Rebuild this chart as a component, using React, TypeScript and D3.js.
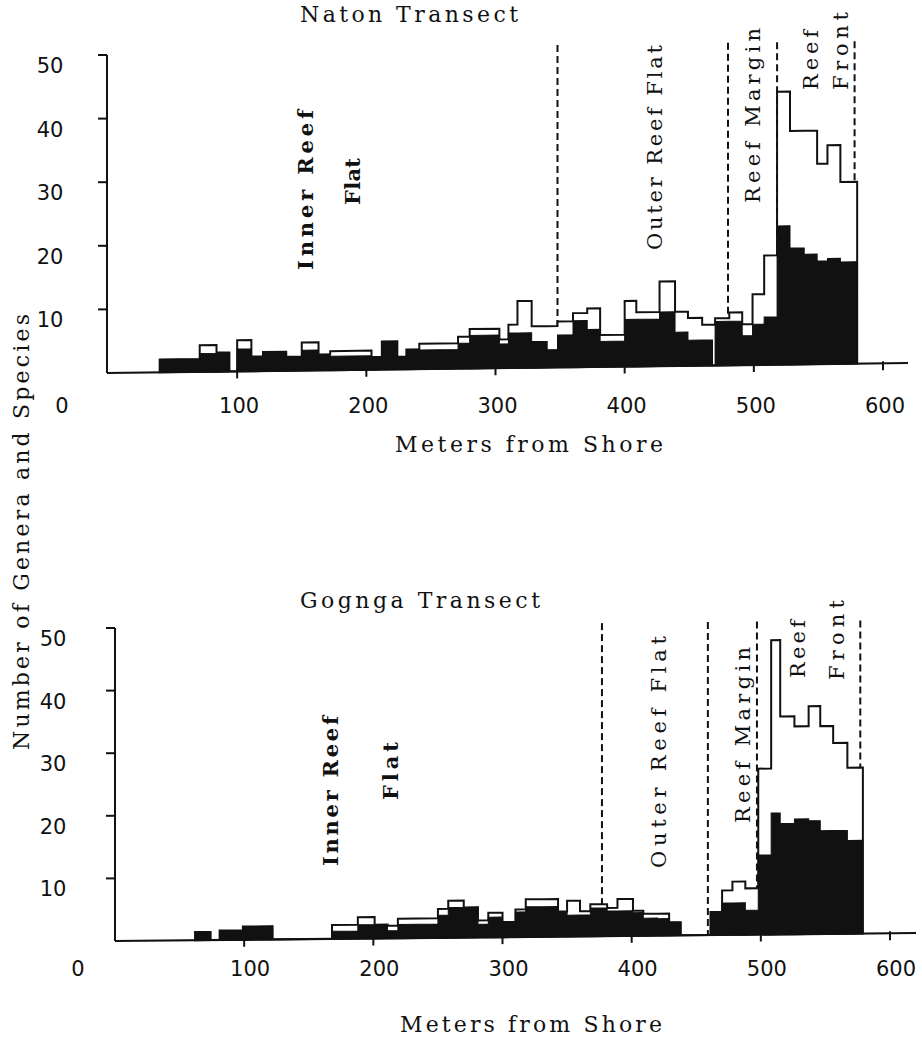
import React, { useEffect, useRef } from 'react';
import * as d3 from 'd3';

// Naton transect: bin edges (m from shore) and counts per bin
const natonEdges = [40, 71, 84, 94, 100, 111, 120, 138, 150, 163, 172, 204, 212, 224, 231, 241, 271, 280, 303, 310, 317, 328, 340, 348, 360, 371, 381, 400, 409, 427, 439, 449, 460, 468, 470, 481, 491, 499, 508, 518, 528, 539, 549, 557, 567, 580];
const natonSpecies = [2, 4.2, 3, 0, 4.9, 2.3, 3, 2.2, 4.4, 2.5, 3, 2, 4.4, 2, 3.1, 4, 5, 6.2, 4.5, 6.8, 10.5, 6.5, 6.5, 7.2, 8.5, 9.2, 5, 10.3, 8.5, 13.3, 8.5, 7.5, 6.4, 6.4, 7.4, 8.3, 6.4, 11.1, 17.2, 42.9, 36.7, 36.7, 31.5, 34.4, 28.6];
const natonGenera = [2, 2.9, 3, 0, 3.5, 2.3, 3, 2.2, 3.2, 2.5, 2.2, 2, 4.4, 2, 3.1, 3, 4, 5.2, 3.8, 5.5, 5.5, 4.1, 2.8, 5.1, 7.3, 5.9, 4, 7.4, 7.4, 8.5, 5.3, 4, 4, 0, 6.9, 6.9, 4.6, 6.4, 7.5, 21.8, 18.3, 17.3, 16.2, 16.6, 16];
const natonZones = [348, 480, 518, 578];

// Gognga transect
const gognaEdges = [62, 74, 81, 99, 122, 168, 188, 201, 211, 219, 250, 258, 270, 281, 289, 300, 310, 318, 331, 343, 350, 360, 368, 381, 389, 401, 409, 420, 429, 438, 461, 470, 478, 488, 498, 508, 515, 526, 537, 546, 556, 567, 579];
const gognaSpecies = [1.3, 0, 1.5, 2.1, 0, 2.2, 3.4, 2.2, 2, 3.1, 4.6, 5.9, 4.8, 2.7, 3.9, 2.4, 4.4, 6, 6, 4, 5.7, 4, 5.1, 4.5, 5.9, 4, 3.5, 3.5, 2.1, 0, 3.7, 7.1, 8.5, 7.4, 26.5, 47, 34.8, 33.2, 36.4, 33.2, 30.5, 26.5];
const gognaGenera = [1.3, 0, 1.5, 2.1, 0, 1.2, 2.2, 2.2, 1.2, 2.2, 3.6, 4.8, 4.8, 2.1, 3.2, 2.4, 4, 4.8, 4.8, 4, 3.4, 3.4, 4.5, 4, 4, 3.7, 2.8, 2.7, 2.1, 0, 3.7, 5.1, 5.1, 3.9, 12.7, 19.4, 17.7, 18.4, 18.1, 16.5, 16.5, 14.9];
const gognaZones = [377, 459, 497, 577];

const xTicks = [100, 200, 300, 400, 500, 600];
const yTicks = [10, 20, 30, 40, 50];

// no typewriter face offline; a slab-ish serif stretched to typewriter widths
const typeFont = '"DejaVu Serif", "Liberation Serif", serif';
const digits = '"DejaVu Sans", sans-serif';
const ink = '#111';

const typeText = (sel, t) => {
  const el = sel.append('text')
    .attr('font-family', typeFont)
    .attr('font-size', t.size || 21)
    .attr('font-weight', t.bold ? 'bold' : 'normal')
    .attr('fill', ink)
    .attr('textLength', t.len)
    .attr('lengthAdjust', 'spacing')
    .text(t.text);
  if (t.rot) {
    el.attr('transform', `translate(${t.x},${t.y}) rotate(-90)`).attr('dy', '0.36em');
  } else {
    el.attr('x', t.x).attr('y', t.y);
  }
  return el;
};

const drawPanel = (svg, p) => {
  const x = d3.scaleLinear().domain([0, 600]).range([p.x0, p.x0 + 775]);
  const y = d3.scaleLinear().domain([0, 50]).range([p.base, p.base - 50 * p.unit]);
  const g = svg.append('g');

  // the scanned page is a little skewed, so shear the plot to tilt the baseline
  const plot = g.append('g')
    .attr('transform', `matrix(1,${p.slope},0,1,0,${-p.slope * p.axisX})`);

  plot.selectAll('line.zone')
    .data(p.zones)
    .join('line')
    .attr('x1', d => x(d)).attr('x2', d => x(d))
    .attr('y1', y(p.zoneTop)).attr('y2', y(0))
    .attr('stroke', ink).attr('stroke-width', 2)
    .attr('stroke-dasharray', '7,4');

  const pts = vals => p.edges.map((e, i) => [e, vals[Math.min(i, vals.length - 1)]]);
  const area = d3.area()
    .x(d => x(d[0]))
    .y0(y(0))
    .y1(d => y(d[1]))
    .curve(d3.curveStepAfter);

  plot.append('path')
    .attr('d', area(pts(p.species)))
    .attr('fill', '#fff').attr('stroke', ink).attr('stroke-width', 2);

  plot.append('path')
    .attr('d', area(pts(p.genera)))
    .attr('fill', ink).attr('stroke', ink).attr('stroke-width', 1);

  plot.append('line')
    .attr('x1', p.axisX).attr('x2', p.axisEnd)
    .attr('y1', y(0)).attr('y2', y(0))
    .attr('stroke', ink).attr('stroke-width', 2.2);

  plot.selectAll('line.xt')
    .data(xTicks)
    .join('line')
    .attr('x1', d => x(d)).attr('x2', d => x(d))
    .attr('y1', y(0) - 2).attr('y2', y(0) + 7)
    .attr('stroke', ink).attr('stroke-width', 2);

  // y axis
  g.append('line')
    .attr('x1', p.axisX).attr('x2', p.axisX)
    .attr('y1', y(0)).attr('y2', y(50))
    .attr('stroke', ink).attr('stroke-width', 2);
  g.selectAll('line.yt')
    .data(yTicks)
    .join('line')
    .attr('x1', p.axisX - 9).attr('x2', p.axisX)
    .attr('y1', d => y(d)).attr('y2', d => y(d))
    .attr('stroke', ink).attr('stroke-width', 2);

  g.selectAll('text.yl')
    .data(yTicks)
    .join('text')
    .attr('x', p.yLabelX)
    .attr('y', d => y(d) + 18)
    .attr('text-anchor', 'middle')
    .attr('font-family', digits).attr('font-size', 21).attr('fill', ink)
    .text(d => d);

  g.selectAll('text.xl')
    .data(xTicks)
    .join('text')
    .attr('x', d => x(d) + p.xLabelDx)
    .attr('y', p.xLabelY)
    .attr('text-anchor', 'middle')
    .attr('font-family', digits).attr('font-size', 21).attr('fill', ink)
    .text(d => d);

  g.append('text')
    .attr('x', p.zeroX).attr('y', p.xLabelY)
    .attr('text-anchor', 'middle')
    .attr('font-family', digits).attr('font-size', 21).attr('fill', ink)
    .text('0');

  typeText(g, p.title);
  typeText(g, p.xTitle);
  p.labels.forEach(l => typeText(g, { ...l, rot: true }));
};

const App = () => {
  const ref = useRef(null);

  useEffect(() => {
    const root = d3.select(ref.current);
    root.selectAll('*').remove();
    const svg = root.append('svg')
      .attr('width', 922)
      .attr('height', 1041)
      .style('display', 'block')
      .style('background', '#fff');

    drawPanel(svg, {
      title: { text: 'Naton Transect', x: 300, y: 22, len: 218, size: 22 },
      xTitle: { text: 'Meters from Shore', x: 395, y: 452, len: 268, size: 22 },
      edges: natonEdges, species: natonSpecies, genera: natonGenera, zones: natonZones,
      x0: 108, axisX: 107, axisEnd: 908, base: 373, unit: 6.36, slope: -0.0125, zoneTop: 50.7,
      yLabelX: 50, xLabelY: 413, xLabelDx: 2, zeroX: 62,
      labels: [
        { text: 'Inner Reef', x: 305, y: 270, len: 160, bold: true },
        { text: 'Flat', x: 352, y: 205, len: 47, bold: true },
        { text: 'Outer Reef Flat', x: 654, y: 250, len: 205 },
        { text: 'Reef Margin', x: 752, y: 203, len: 175 },
        { text: 'Reef', x: 810, y: 90, len: 60 },
        { text: 'Front', x: 840, y: 90, len: 78 },
      ],
    });

    drawPanel(svg, {
      title: { text: 'Gognga Transect', x: 300, y: 608, len: 240, size: 22 },
      xTitle: { text: 'Meters from Shore', x: 400, y: 1032, len: 262, size: 22 },
      edges: gognaEdges, species: gognaSpecies, genera: gognaGenera, zones: gognaZones,
      x0: 115, axisX: 115, axisEnd: 916, base: 941, unit: 6.26, slope: -0.01, zoneTop: 50,
      yLabelX: 53, xLabelY: 976, xLabelDx: 6, zeroX: 78,
      labels: [
        { text: 'Inner Reef', x: 330, y: 866, len: 150, bold: true },
        { text: 'Flat', x: 390, y: 800, len: 58, bold: true },
        { text: 'Outer Reef Flat', x: 658, y: 868, len: 232 },
        { text: 'Reef Margin', x: 742, y: 823, len: 176 },
        { text: 'Reef', x: 797, y: 678, len: 58 },
        { text: 'Front', x: 836, y: 680, len: 80 },
      ],
    });

    typeText(svg, { text: 'Number of Genera and Species', x: 21, y: 750, len: 436, size: 22, rot: true });
  }, []);

  return <div ref={ref} style={{ position: 'absolute', left: 0, top: 0 }}></div>;
};

export default App;
